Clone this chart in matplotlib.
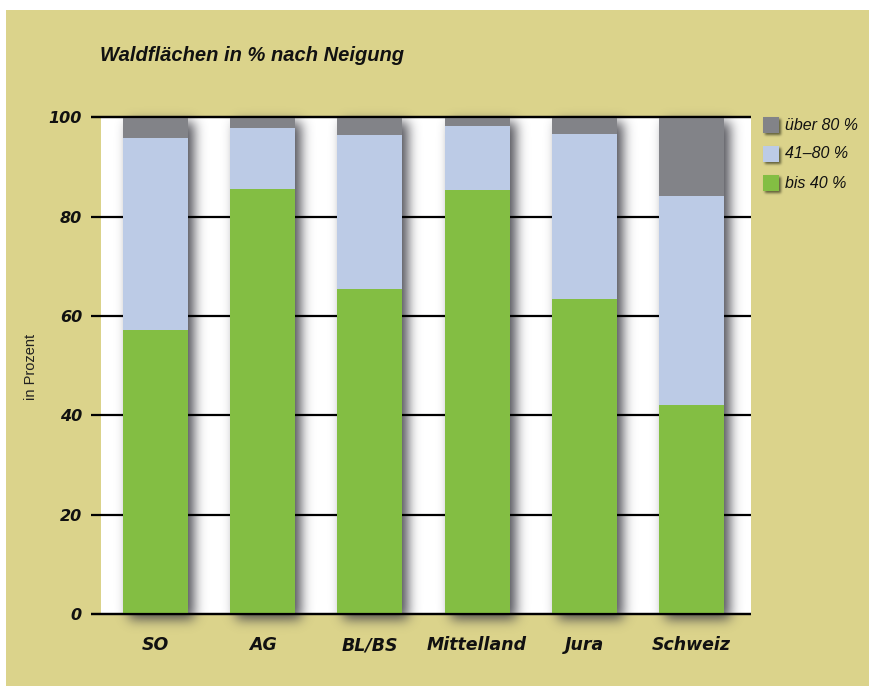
import numpy as np
import matplotlib
matplotlib.use("Agg")
import matplotlib.pyplot as plt
from matplotlib.patches import Rectangle

# ---------------- data ----------------
categories = ["SO", "AG", "BL/BS", "Mittelland", "Jura", "Schweiz"]
bis40 = [57.2, 85.6, 65.5, 85.4, 63.4, 42.1]
p41_80 = [38.6, 12.3, 31.0, 12.9, 33.3, 42.1]
ueber80 = [4.2, 2.1, 3.5, 1.7, 3.3, 15.8]
series_labels = ["über 80 %", "41–80 %", "bis 40 %"]
yticks = [0, 20, 40, 60, 80, 100]

# ---------------- style ----------------
KHAKI = "#dbd38b"
GREEN = "#83be43"
BLUE = "#bccbe6"
GRAY = "#828388"
W, H = 870, 686


def gblur(a, sigma):
    r = int(3 * sigma) + 1
    x = np.arange(-r, r + 1)
    k = np.exp(-x ** 2 / (2.0 * sigma ** 2))
    k /= k.sum()
    p = np.pad(a, r, mode="constant")
    out = np.zeros_like(p)
    for i, kv in enumerate(k):
        out += kv * np.roll(p, i - r, axis=1)
    p2 = out
    out = np.zeros_like(p2)
    for i, kv in enumerate(k):
        out += kv * np.roll(p2, i - r, axis=0)
    return out[r:-r, r:-r]


class DropShadow:
    def __init__(self, sigma, offset, alpha, color=(0.25, 0.25, 0.28)):
        self.sigma = sigma
        self.offset = offset
        self.alpha = alpha
        self.color = color

    def __call__(self, im, dpi):
        ox, oy = self.offset
        pad = int(3 * self.sigma + max(abs(ox), abs(oy))) + 3
        a = np.pad(im[..., 3], pad, mode="constant")
        a = gblur(a, self.sigma)
        a = np.roll(a, ox, axis=1)
        a = np.roll(a, oy, axis=0)
        out = np.zeros(a.shape + (4,))
        out[..., 0] = self.color[0]
        out[..., 1] = self.color[1]
        out[..., 2] = self.color[2]
        out[..., 3] = np.clip(a * self.alpha, 0, 1)
        return out, -pad, -pad


fig = plt.figure(figsize=(W / 100, H / 100), dpi=100, facecolor="white")
fig.patches.append(Rectangle((6 / W, 0), 1, (H - 10) / H, transform=fig.transFigure,
                             facecolor=KHAKI, edgecolor="none", zorder=-10))

left_px, right_px, top_px, bot_px = 91, 751, 117.3, 614
ax = fig.add_axes([left_px / W, 1 - bot_px / H, (right_px - left_px) / W, (bot_px - top_px) / H])
ax.set_facecolor("none")
for s in ax.spines.values():
    s.set_visible(False)

x = np.arange(len(categories))
xl, xr = -0.6017, 5.555
ax.set_xlim(xl, xr)
ax.set_ylim(0, 100)

# white plot area
ax.add_patch(Rectangle((-0.508, 0), xr + 0.508, 100, facecolor="white", edgecolor="none", zorder=0))

bw = 0.606
totals = np.array(bis40) + np.array(p41_80) + np.array(ueber80)
shadow = ax.bar(x, totals, bw, color="black", zorder=1)
for p in shadow:
    p.set_agg_filter(DropShadow(6.0, (6, 5), 0.92))
    p.set_clip_on(False)
    p.set_rasterized(True)

for y in yticks:
    ax.plot([xl, xr], [y, y], color="black", lw=1.6, zorder=2, clip_on=False,
            solid_capstyle="butt")

b1 = ax.bar(x, bis40, bw, color=GREEN, zorder=3, linewidth=0)
b2 = ax.bar(x, p41_80, bw, bottom=bis40, color=BLUE, zorder=3, linewidth=0)
b3 = ax.bar(x, ueber80, bw, bottom=np.array(bis40) + np.array(p41_80), color=GRAY,
            zorder=3, linewidth=0)
for y in (0, 100):
    ax.plot([xl, xr], [y, y], color="black", lw=1.6, zorder=4, clip_on=False,
            solid_capstyle="butt")

ax.set_yticks(yticks)
ax.set_yticklabels([str(v) for v in yticks], fontfamily="DejaVu Sans",
                   fontweight="bold", fontstyle="oblique", fontsize=11.5, color="#111111")
ax.set_xticks(x)
ax.set_xticklabels(categories, fontfamily="DejaVu Sans", fontweight="bold",
                   fontstyle="oblique", fontsize=12.5, color="#111111")
ax.tick_params(axis="y", length=0, pad=6.5)
ax.tick_params(axis="x", length=0, pad=16)

fig.text(100 / W, 1 - 61 / H, "Waldflächen in % nach Neigung", fontfamily="Liberation Sans",
         fontweight="bold", fontstyle="italic", fontsize=14.5, color="#111111",
         ha="left", va="baseline")
fig.text(31 / W, 1 - 367 / H, "in Prozent", fontfamily="Liberation Sans", fontsize=10.5,
         color="#222222", rotation=90, ha="center", va="center")

# legend
leg_colors = [GRAY, BLUE, GREEN]
leg_y = [125, 154, 183]
for c, lab, yy in zip(leg_colors, series_labels, leg_y):
    sh = Rectangle((763 / W, 1 - (yy + 8) / H), 16 / W, 16 / H, transform=fig.transFigure,
                   facecolor="black", edgecolor="none", zorder=4)
    sh.set_agg_filter(DropShadow(1.3, (2, 2), 0.75, color=(0.22, 0.22, 0.12)))
    sh.set_rasterized(True)
    fig.patches.append(sh)
    r = Rectangle((763 / W, 1 - (yy + 8) / H), 16 / W, 16 / H, transform=fig.transFigure,
                  facecolor=c, edgecolor="none", zorder=5)
    fig.patches.append(r)
    fig.text(785 / W, 1 - yy / H, lab, fontfamily="Liberation Sans", fontstyle="italic",
             fontsize=11.5, color="#111111", ha="left", va="center")

fig.savefig("out.png", dpi=100, facecolor=fig.get_facecolor())
